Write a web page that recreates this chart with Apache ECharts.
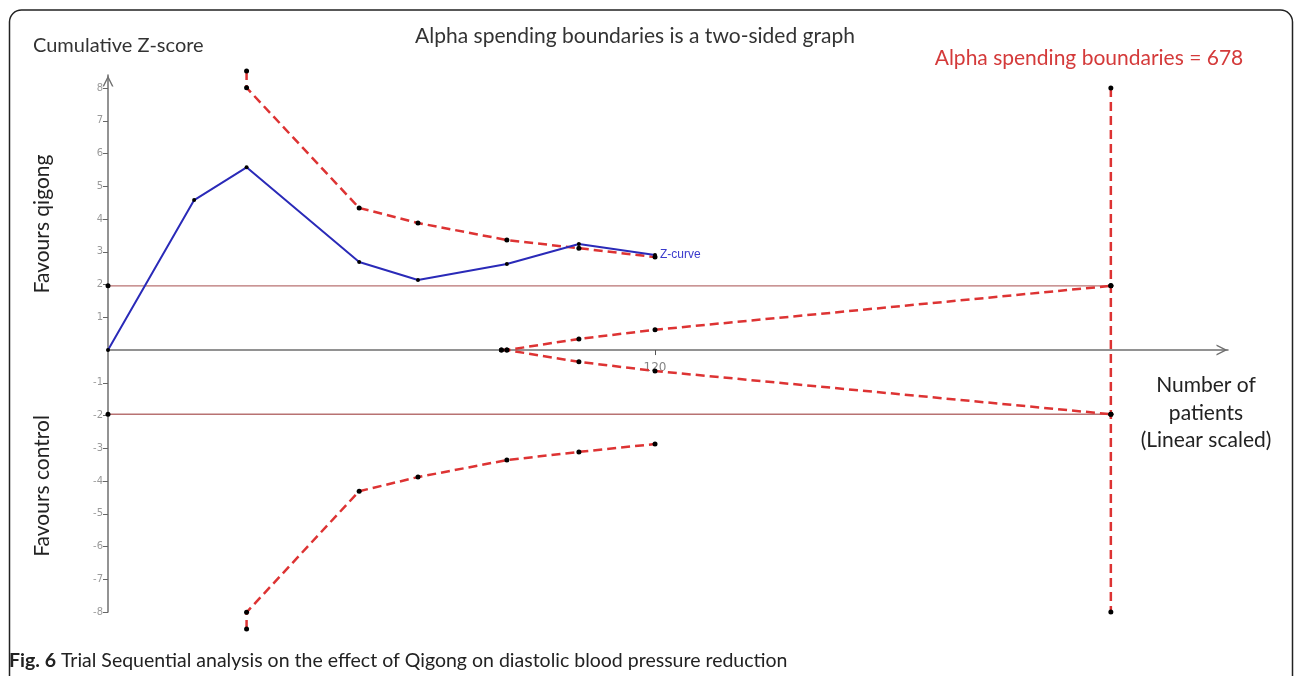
<!DOCTYPE html>
<html>
<head>
<meta charset="utf-8">
<script src="https://cdn.jsdelivr.net/npm/echarts@6/dist/echarts.min.js"></script>
<style>html,body{margin:0;padding:0;background:#fff;}#c{width:1295px;height:676px;}</style>
</head>
<body>
<div id="c"></div>
<script>
// Data (x: axis position in patients, linear-scaled; y: cumulative Z-score)
const zCurve = [[0,0],[18.9,4.58],[30.4,5.58],[55.1,2.69],[68.0,2.14],[87.5,2.63],[103.3,3.24],[120,2.9]];
const upperBoundary = [[30.4,8.52],[30.4,8.01],[55.1,4.34],[68.0,3.88],[87.5,3.36],[103.3,3.11],[120,2.84]];
const lowerBoundary = [[30.4,-8.52],[30.4,-8.01],[55.1,-4.31],[68.0,-3.88],[87.5,-3.36],[103.3,-3.11],[120,-2.87]];
const innerUpper = [[86.3,0],[87.5,0],[103.3,0.34],[120,0.62],[220,1.96]];
const innerLower = [[86.3,0],[87.5,0],[103.3,-0.36],[120,-0.64],[220,-1.96]];
const risLine = [[220,8],[220,1.96],[220,-1.96],[220,-8]];
const convUpper = [[0,1.96],[220,1.96]];
const convLower = [[0,-1.96],[220,-1.96]];
const xTickValues = [120];
const xTickLabels = ['120'];
const yTickValues = [-8,-7,-6,-5,-4,-3,-2,-1,1,2,3,4,5,6,7,8];

const FONT = 'Lato, "Open Sans", sans-serif';
const chevron = 'path://M0,10 L5,0 L10,10 L8.6,10 L5,2.8 L1.4,10 Z';
const red = '#dd3333';
const dot = {color:'#000'};

const chart = echarts.init(document.getElementById('c'));
function dashed(data){
  return {type:'line', data:data, symbol:'circle', symbolSize:5, itemStyle:dot, clip:false,
    lineStyle:{color:red, width:2.5, type:[9,5]}, animation:false, z:3};
}
chart.setOption({
  animation:false,
  grid:{left:108, right:67, top:75, bottom:64, containLabel:false},
  xAxis:{type:'value', min:0, max:245.7,
    axisLine:{show:true, onZero:true, symbol:['none', chevron], symbolSize:[11,12], symbolOffset:[0,-6],
      lineStyle:{color:'#6f6f6f', width:1.5}},
    axisTick:{show:true, customValues:xTickValues, length:5, inside:false, lineStyle:{color:'#555'}},
    axisLabel:{show:false},
    splitLine:{show:false}},
  yAxis:{type:'value', min:-8, max:8.4,
    axisLine:{show:true, onZero:false, symbol:['none', chevron], symbolSize:[11,12], symbolOffset:[0,-6],
      lineStyle:{color:'#6f6f6f', width:1.5}},
    axisTick:{show:true, customValues:yTickValues, length:5, lineStyle:{color:'#666'}},
    axisLabel:{show:true, customValues:yTickValues, color:'#9a9a9a', fontSize:10, margin:5, fontFamily:'"DejaVu Sans", sans-serif'},
    splitLine:{show:false}},
  series:[
    {type:'line', data:convUpper, symbol:'circle', symbolSize:5, itemStyle:dot, lineStyle:{color:'#b87272', width:1.3}, z:1},
    {type:'line', data:convLower, symbol:'circle', symbolSize:5, itemStyle:dot, lineStyle:{color:'#b87272', width:1.3}, z:1},
    dashed(upperBoundary),
    dashed(lowerBoundary),
    dashed(innerUpper),
    dashed(innerLower),
    dashed(risLine),
    {type:'line', data:zCurve, symbol:'circle', symbolSize:4, itemStyle:dot, clip:false,
      lineStyle:{color:'#2a2ab8', width:2}, z:4,
      endLabel:{show:true, formatter:'Z-curve', color:'#3a3acc', fontSize:12, distance:5, fontFamily:'"Liberation Sans", sans-serif'}},
    {type:'scatter', data:xTickValues.map(function(v){return [v,0];}), symbolSize:0, silent:true, z:2,
      label:{show:true, position:'bottom', distance:12, color:'#666', fontSize:12, fontFamily:'"DejaVu Sans", sans-serif',
        formatter:function(p){return xTickLabels[p.dataIndex];}}}
  ],
  graphic:[
    {type:'rect', shape:{x:9.5, y:10, width:1283, height:720, r:12}, style:{fill:'none', stroke:'#222', lineWidth:1.5}, silent:true, z:-1},
    {type:'text', x:33, y:46, style:{text:'Cumulative Z-score', font:'20px '+FONT, fill:'#333', verticalAlign:'middle'}},
    {type:'text', x:635, y:36, style:{text:'Alpha spending boundaries is a two-sided graph', font:'21px '+FONT, fill:'#333', align:'center', verticalAlign:'middle'}},
    {type:'text', x:1089, y:58, style:{text:'Alpha spending boundaries = 678', font:'21px '+FONT, fill:'#d43a3a', align:'center', verticalAlign:'middle'}},
    {type:'text', x:42, y:224, rotation:Math.PI/2, style:{text:'Favours qigong', font:'21px '+FONT, fill:'#222', align:'center', verticalAlign:'middle'}},
    {type:'text', x:42, y:486, rotation:Math.PI/2, style:{text:'Favours control', font:'21px '+FONT, fill:'#222', align:'center', verticalAlign:'middle'}},
    {type:'text', x:1206, y:413, style:{text:'Number of\npatients\n(Linear scaled)', font:'21px '+FONT, lineHeight:27.5, fill:'#222', align:'center', verticalAlign:'middle'}},
    {type:'text', x:9, y:661, style:{text:'{b|Fig. 6} Trial Sequential analysis on the effect of Qigong on diastolic blood pressure reduction',
      font:'19.5px '+FONT, fill:'#222', verticalAlign:'middle', rich:{b:{fontWeight:'bold', fontSize:19.5, fontFamily:FONT}}}}
  ]
});
</script>
</body>
</html>
